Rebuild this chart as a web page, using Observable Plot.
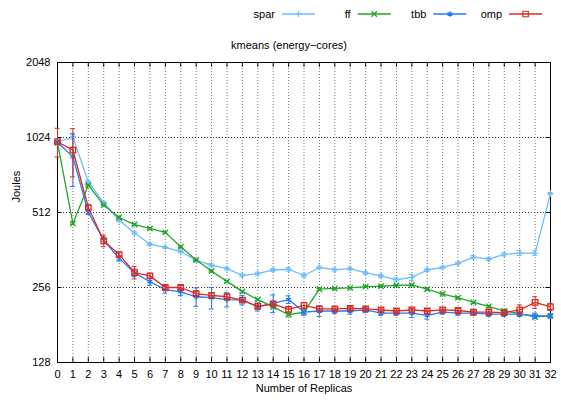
<!DOCTYPE html>
<html><head><meta charset="utf-8">
<script src="https://cdn.jsdelivr.net/npm/d3@7"></script>
<script src="https://cdn.jsdelivr.net/npm/@observablehq/plot@0.6"></script>
<style>
body{margin:0;background:#fff;font-family:"Liberation Sans",Arial,sans-serif;}
#wrap{position:relative;width:561px;height:403px;overflow:hidden;}
#legend{position:absolute;left:0;top:0;}
#title{position:absolute;left:0;top:38px;width:578px;text-align:center;font-size:11px;line-height:14px;color:#000;}
#chart{position:absolute;left:0;top:52px;}
</style></head><body>
<div id="wrap"><svg id="legend" width="561" height="28"></svg><div id="title">kmeans (energy−cores)</div><div id="chart"></div></div>
<script>
const replicas = [0,1,2,3,4,5,6,7,8,9,10,11,12,13,14,15,16,17,18,19,20,21,22,23,24,25,26,27,28,29,30,31,32];
const yTicks = [128, 256, 512, 1024, 2048];
const seriesNames = ["spar", "ff", "tbb", "omp"];

const spar = [980,1030,679,560,477,424,382,371,357,329,315,305,286,291,301,303,286,308,302,305,293,285,275,281,301,308,320,339,333,348,352,352,610];
const sparErr = [10,20,8,6,5,5,4,4,4,4,4,4,4,4,4,5,4,4,4,4,4,4,5,8,4,4,4,5,5,5,8,8,6];

const ff = [975,462,659,548,489,458,442,426,373,330,298,271,247,229,214,199,204,252,254,255,258,259,261,262,252,241,233,223,215,206,201,195,197];
const ffErr = [5,3,4,3,3,3,3,3,2,2,2,2,2,2,2,2,2,2,2,2,2,2,2,2,2,2,2,2,2,2,2,2,2];

const tbb = [980,856,512,396,335,293,270,251,246,235,233,229,228,214,221,229,204,206,206,206,208,202,202,202,198,204,202,202,200,200,200,197,197];
const tbbErr = [15,205,8,12,8,10,9,8,8,20,23,15,10,8,18,8,6,10,5,6,5,4,4,8,7,4,4,4,4,4,4,5,4];

const omp = [985,911,536,394,347,294,285,256,256,242,238,235,228,215,220,209,217,210,210,211,210,208,206,208,206,208,207,204,204,203,208,223,214];
const ompErr = [130,200,10,21,8,17,6,5,5,5,5,5,5,5,5,5,6,5,4,4,4,4,4,4,4,4,4,4,4,4,10,12,7];

const colors = {spar: "#6cbcff", ff: "#23a52d", tbb: "#2079ff", omp: "#d92b1f"};
const symbols = {spar: "plus", ff: "times", tbb: "asterisk", omp: "square"};
const radii = {spar: 2.1, ff: 2.6, tbb: 2.6, omp: 3.1};
const d3Symbols = {plus: d3.symbolPlus, times: d3.symbolTimes, asterisk: d3.symbolAsterisk, square: d3.symbolSquare};

const valuesBy = {spar, ff, tbb, omp};
const errBy = {spar: sparErr, ff: ffErr, tbb: tbbErr, omp: ompErr};

const rows = [];
for (const s of seriesNames) {
  replicas.forEach((r, i) => rows.push({series: s, x: r, y: valuesBy[s][i], err: errBy[s][i]}));
}

// Legend
const leg = d3.select("#legend");
seriesNames.forEach((s, i) => {
  const x0 = 282 + i * 75.7;
  leg.append("text").attr("x", x0 - 7).attr("y", 14).attr("text-anchor", "end")
    .attr("dominant-baseline", "central").attr("font-size", 11).attr("fill", "#000").text(s);
  leg.append("line").attr("x1", x0).attr("x2", x0 + 33).attr("y1", 14).attr("y2", 14)
    .attr("stroke", colors[s]).attr("stroke-width", 1.3);
  leg.append("path").attr("transform", `translate(${x0 + 16.5},14)`)
    .attr("d", d3.symbol(d3Symbols[symbols[s]], Math.PI * radii[s] * radii[s])())
    .attr("fill", "none").attr("stroke", colors[s]).attr("stroke-width", 1.2);
});

const marks = [
  Plot.ruleX(replicas.slice(1, -1), {stroke: "#777", strokeDasharray: "1,2", strokeWidth: 1}),
  Plot.ruleY(yTicks.slice(1, -1), {stroke: "#333", strokeDasharray: "1,2", strokeWidth: 1}),
  Plot.ruleY(yTicks, {x1: 0, x2: 0.3, stroke: "#000"}),
  Plot.ruleY(yTicks, {x1: 31.7, x2: 32, stroke: "#000"}),
  Plot.ruleX(replicas, {y1: 128, y2: 128 * 1.045, stroke: "#000"}),
  Plot.ruleX(replicas, {y1: 2048, y2: 2048 / 1.045, stroke: "#000"}),
  Plot.frame({stroke: "#000"}),
  Plot.axisX({ticks: replicas, tickFormat: d => String(d), tickSize: 0, tickPadding: 8, label: null, fontSize: 11}),
  Plot.axisY({ticks: yTicks, tickFormat: d => String(d), tickSize: 0, tickPadding: 7, label: null, fontSize: 11}),
  Plot.text(["Joules"], {frameAnchor: "left", dx: -41, dy: -10, rotate: -90, fontSize: 11, fill: "#000"}),
  Plot.text(["Number of Replicas"], {frameAnchor: "bottom", dy: 29.5, fontSize: 11, fill: "#000"})
];

for (const s of seriesNames) {
  const data = rows.filter(d => d.series === s);
  const c = colors[s];
  marks.push(
    Plot.line(data, {x: "x", y: "y", stroke: c, strokeWidth: 1.3}),
    Plot.ruleX(data, {x: "x", y1: d => d.y - d.err, y2: d => d.y + d.err, stroke: c, strokeWidth: 1}),
    Plot.ruleY(data, {y: d => d.y - d.err, x1: d => d.x - 0.16, x2: d => d.x + 0.16, stroke: c, strokeWidth: 1}),
    Plot.ruleY(data, {y: d => d.y + d.err, x1: d => d.x - 0.16, x2: d => d.x + 0.16, stroke: c, strokeWidth: 1}),
    Plot.dot(data, {x: "x", y: "y", symbol: symbols[s], r: radii[s], stroke: c, fill: "none", strokeWidth: 1.3})
  );
}

const chart = Plot.plot({
  width: 561,
  height: 351,
  marginTop: 10,
  marginBottom: 41,
  marginLeft: 57,
  marginRight: 11,
  style: {fontFamily: "'Liberation Sans', Arial, sans-serif", fontSize: "11px", background: "#fff", color: "#000"},
  x: {domain: [0, 32]},
  y: {type: "log", base: 2, domain: [128, 2048]},
  marks
});
document.getElementById("chart").appendChild(chart);
</script>
</body></html>
